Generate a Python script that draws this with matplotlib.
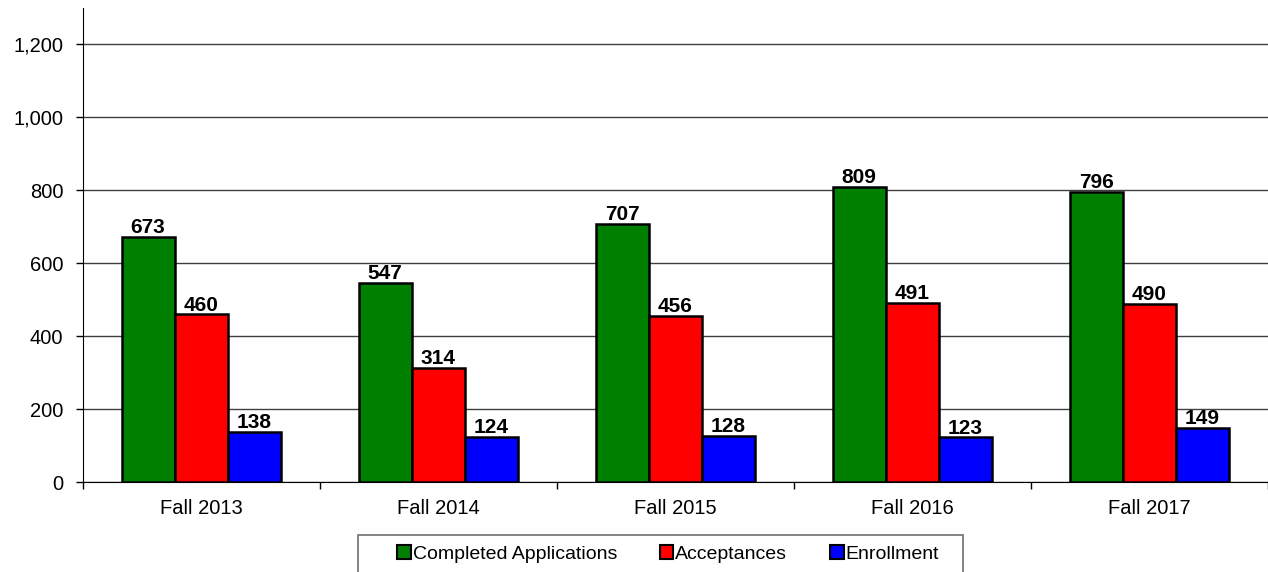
import numpy as np
import matplotlib
matplotlib.use("Agg")
import matplotlib.pyplot as plt
from matplotlib.patches import Patch, Rectangle
from matplotlib.ticker import FuncFormatter

plt.rcParams['font.family'] = ['Liberation Sans', 'DejaVu Sans']

# chart data
terms = ["Fall 2013", "Fall 2014", "Fall 2015", "Fall 2016", "Fall 2017"]
applications = [673, 547, 707, 809, 796]
acceptances = [460, 314, 456, 491, 490]
enrollment = [138, 124, 128, 123, 149]

series_names = ["Completed Applications", "Acceptances", "Enrollment"]
series_colors = ["#008000", "#FF0000", "#0000FF"]

W, H = 1268, 572
fig = plt.figure(figsize=(W / 100, H / 100), dpi=100)
ax = fig.add_axes([0.0652, 0.1568, 0.9348, 0.8292])

x = np.arange(len(terms))
width = 0.224
offsets = [-width, 0, width]

for vals, name, color, off in zip([applications, acceptances, enrollment],
                                  series_names, series_colors, offsets):
    bars = ax.bar(x + off, vals, width, color=color, edgecolor="black",
                  linewidth=1.8, label=name, zorder=3)
    for b, v in zip(bars, vals):
        ax.annotate(f"{v}", (b.get_x() + b.get_width() / 2, v),
                    xytext=(0, 2.8), textcoords="offset points",
                    ha="center", va="baseline", fontsize=15,
                    fontweight="bold", zorder=4)

ax.set_xlim(-0.5, len(terms) - 0.5)
ax.set_ylim(0, 1300)

# y axis
ax.set_yticks(np.arange(0, 1201, 200))
ax.yaxis.set_major_formatter(FuncFormatter(lambda v, p: f"{int(v):,}"))
ax.tick_params(axis="y", direction="out", length=5, width=1, pad=9,
               labelsize=14.5)
ax.grid(axis="y", color="#404040", linewidth=1, zorder=0)

# x axis: labels centred, tick marks between groups
ax.set_xticks(x)
ax.set_xticklabels(terms)
ax.set_xticks(np.arange(-0.5, len(terms), 1.0), minor=True)
ax.tick_params(axis="x", which="major", length=0, pad=12, labelsize=14.5)
ax.tick_params(axis="x", which="minor", direction="out", length=5, width=1)

for side in ["top", "right"]:
    ax.spines[side].set_visible(False)

# legend box runs off the bottom of the image
fig.add_artist(Rectangle((358 / W, -0.05), (963 - 358) / W, (1 - 535 / H) + 0.05,
                         transform=fig.transFigure, fill=False,
                         edgecolor="#707070", linewidth=1.2))

handles = [Patch(facecolor=c, edgecolor="black", linewidth=1.5)
           for c in series_colors]
leg = fig.legend(handles, series_names, loc="upper left",
                 bbox_to_anchor=(397 / W, 1 - 545 / H),
                 ncol=3, fontsize=14, frameon=False, handlelength=0.7,
                 handleheight=0.7, handletextpad=0.1, columnspacing=2.2,
                 borderpad=0, borderaxespad=0)

fig.savefig("out.png", dpi=100)
